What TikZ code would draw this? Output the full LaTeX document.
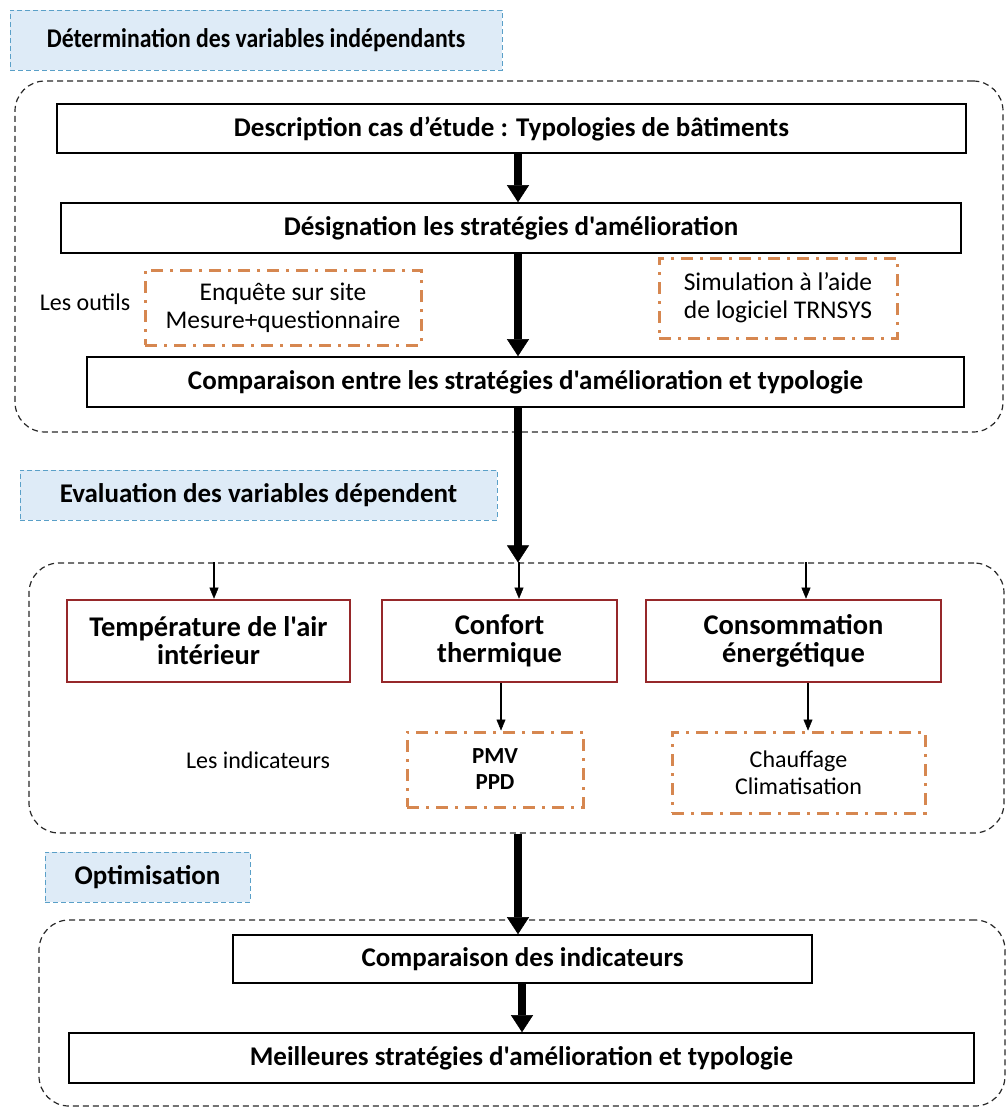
\documentclass[tikz,border=0pt]{standalone}
\usepackage{fontspec}
\usepackage{graphicx}
\setmainfont{Carlito}[Ligatures=TeXOff]
\usetikzlibrary{arrows.meta}
\definecolor{hdrfill}{RGB}{222,235,247}
\definecolor{hdrline}{RGB}{90,160,200}
\definecolor{toolline}{RGB}{214,135,80}
\definecolor{redline}{RGB}{150,40,42}
\definecolor{grpline}{RGB}{40,40,40}
\begin{document}
\begin{tikzpicture}[x=1pt,y=-1pt,
  group/.style={draw=grpline,line width=1.2pt,dash pattern=on 6pt off 4pt,rounded corners=30pt,inner sep=0pt},
  header/.style={draw=hdrline,fill=hdrfill,line width=1pt,dash pattern=on 5pt off 3pt,inner sep=0pt,font=\fontsize{27}{32}\selectfont\bfseries},
  mainbox/.style={draw=black,line width=1.6pt,fill=white,inner sep=0pt,font=\fontsize{27}{32}\selectfont\bfseries},
  varbox/.style={draw=redline,line width=2.6pt,fill=white,inner sep=0pt,align=center,font=\fontsize{28.5}{28}\selectfont\bfseries},
  toolbox/.style={draw=toolline,line width=3pt,dash pattern=on 12pt off 7pt on 3pt off 7pt,inner sep=0pt,align=center,font=\fontsize{25.5}{28}\selectfont},
  plain/.style={inner sep=0pt,font=\fontsize{24}{28}\selectfont},
  bigarrow/.style={line width=8.5pt,-{Triangle[width=22pt,length=17pt,line width=0.5pt]}},
  smallarrow/.style={line width=1.3pt,-{Triangle[width=9pt,length=11pt,line width=0.5pt]}},
]
\useasboundingbox (0,0) rectangle (1008,1109);
\fill[white] (0,0) rectangle (1008,1109);

% dashed group frames
\node[group,minimum width=988pt,minimum height=351pt] (g1) at (509,256.5) {};
\node[group,minimum width=975pt,minimum height=270pt] (g2) at (516.5,698) {};
\node[group,minimum width=966pt,minimum height=186pt] (g3) at (522,1013) {};

% section headers
\node[header,minimum width=492pt,minimum height=60pt] (h1) at (256,40) {\scalebox{0.88}[1]{Détermination des variables indépendants}};
\node[header,minimum width=477pt,minimum height=50pt] (h2) at (258.5,495) {Evaluation des variables dépendent};
\node[header,minimum width=205pt,minimum height=50pt] (h3) at (147.5,877) {Optimisation};

% independent variables
\node[mainbox,minimum width=909pt,minimum height=49pt] (desc) at (511.5,128.5) {Description cas d’étude : Typologies de bâtiments};
\node[mainbox,minimum width=900pt,minimum height=50pt] (desig) at (511,228) {Désignation les stratégies d'amélioration};
\node[mainbox,minimum width=877pt,minimum height=50pt] (comp) at (525.5,382) {Comparaison entre les stratégies d'amélioration et typologie};
\node[plain] (outils) at (85,302) {Les outils};
\node[toolbox,minimum width=276pt,minimum height=75pt] (enq) at (283,307.5) {Enquête sur site\\Mesure+questionnaire};
\node[toolbox,minimum width=238pt,minimum height=80pt] (sim) at (778,298) {Simulation à l’aide\\de logiciel TRNSYS};

% dependent variables
\node[varbox,minimum width=283pt,minimum height=82pt] (temp) at (208.5,641) {Température de l'air\\intérieur};
\node[varbox,minimum width=235pt,minimum height=82pt] (conf) at (499.5,641) {Confort\\thermique};
\node[varbox,minimum width=295pt,minimum height=82pt] (cons) at (793.5,641) {Consommation\\énergétique};
\node[plain] (indic) at (258,760) {Les indicateurs};
\node[toolbox,minimum width=176pt,minimum height=75pt,font=\fontsize{23}{26}\selectfont\bfseries] (pmv) at (495,769.5) {PMV\\PPD};
\node[toolbox,minimum width=253pt,minimum height=81pt,font=\fontsize{24}{27}\selectfont] (chauf) at (798.5,772.5) {Chauffage\\Climatisation};

% optimisation
\node[mainbox,minimum width=579pt,minimum height=48pt] (compind) at (522.5,959) {Comparaison des indicateurs};
\node[mainbox,minimum width=905pt,minimum height=50pt] (best) at (521.5,1058) {Meilleures stratégies d'amélioration et typologie};

% arrow columns
\coordinate (spine) at (518,0);
\coordinate (xa) at (214,0);
\coordinate (xb) at (519,0);
\coordinate (xc) at (806,0);
\coordinate (xd) at (501,0);
\coordinate (xe) at (808,0);
\coordinate (xf) at (522,0);

\draw[bigarrow] (desc.south -| spine) -- (desig.north -| spine);
\draw[bigarrow] (desig.south -| spine) -- (comp.north -| spine);
\draw[bigarrow] (comp.south -| spine) -- (g2.north -| spine);
\draw[bigarrow] (g2.south -| spine) -- (compind.north -| spine);
\draw[bigarrow] (compind.south -| xf) -- (best.north -| xf);

\draw[smallarrow] (g2.north -| xa) -- (temp.north -| xa);
\draw[smallarrow] (g2.north -| xb) -- (conf.north -| xb);
\draw[smallarrow] (g2.north -| xc) -- (cons.north -| xc);
\draw[smallarrow] (conf.south -| xd) -- (pmv.north -| xd);
\draw[smallarrow] (cons.south -| xe) -- (chauf.north -| xe);
\end{tikzpicture}
\end{document}
